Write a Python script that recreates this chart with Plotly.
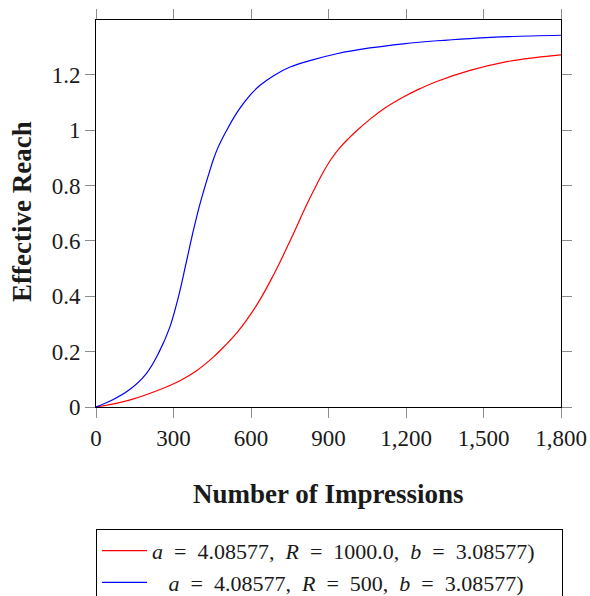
import plotly.graph_objects as go

# Data
impressions_r1000 = [0, 129, 258, 325, 388, 454, 500, 545, 583, 635, 686, 712, 751,
                     777, 800, 828, 855, 880, 910, 945, 980, 1009, 1061, 1120, 1190, 1254,
                     1319, 1448, 1577, 1700, 1800]
reach_r1000 = [0, 0.025, 0.067, 0.095, 0.13, 0.18, 0.222, 0.268, 0.314, 0.388, 0.475, 0.523, 0.600,
               0.652, 0.700, 0.755, 0.805, 0.849, 0.895, 0.938, 0.972, 0.998, 1.040, 1.081, 1.120, 1.150,
               1.176, 1.216, 1.245, 1.262, 1.272]

impressions_r500 = [0, 65, 129, 194, 245, 284, 310, 325, 350, 377, 400, 415, 440, 454, 472, 490, 506,
                    530, 560, 600, 635, 686, 751, 835, 932, 1060, 1190, 1320, 1448, 1600, 1800]
reach_r500 = [0, 0.026, 0.062, 0.12, 0.2, 0.284, 0.365, 0.42, 0.525, 0.638, 0.725, 0.775, 0.852, 0.893,
              0.937, 0.972, 1.0, 1.04, 1.083, 1.13, 1.162, 1.196, 1.228, 1.253, 1.276, 1.297, 1.312,
              1.323, 1.331, 1.338, 1.343]

x_tickvals = [0, 300, 600, 900, 1200, 1500, 1800]
x_ticktext = ["0", "300", "600", "900", "1,200", "1,500", "1,800"]
y_tickvals = [0, 0.2, 0.4, 0.6, 0.8, 1.0, 1.2]
y_ticktext = ["0", "0.2", "0.4", "0.6", "0.8", "1", "1.2"]

S = "\u00a0"
EQ = S * 2 + "=" + S * 2
label_r1000 = ("<i>a</i>" + EQ + "4.08577," + S * 2 + "<i>R</i>" + EQ
               + "1000.0," + S * 2 + "<i>b</i>" + EQ + "3.08577)" + S * 4)
label_r500 = (S * 3 + "<i>a</i>" + EQ + "4.08577," + S * 2 + "<i>R</i>" + EQ
              + "500," + S * 2 + "<i>b</i>" + EQ + "3.08577)")

FONT = "Liberation Serif"

fig = go.Figure()
fig.add_trace(go.Scatter(x=impressions_r1000, y=reach_r1000, mode="lines",
                         line=dict(color="#ff0000", width=1.2, shape="spline", smoothing=1.1),
                         name=label_r1000))
fig.add_trace(go.Scatter(x=impressions_r500, y=reach_r500, mode="lines",
                         line=dict(color="#0000ff", width=1.2, shape="spline", smoothing=1.1),
                         name=label_r500))

axis_common = dict(showline=True, linecolor="black", linewidth=1, mirror="ticks",
                   ticks="outside", ticklen=10, tickcolor="#8c8c8c", tickwidth=1,
                   showgrid=False, zeroline=False,
                   tickfont=dict(family=FONT, size=23, color="#1a1a1a"))

fig.update_xaxes(range=[0, 1800], tickvals=x_tickvals, ticktext=x_ticktext, **axis_common)
fig.update_yaxes(range=[0, 1.398], tickvals=y_tickvals, ticktext=y_ticktext, **axis_common)

fig.add_annotation(text="<b>Number of Impressions</b>", xref="paper", yref="paper",
                   x=0.499, y=-0.225, xanchor="center", yanchor="middle", showarrow=False,
                   font=dict(family=FONT, size=27, color="#1a1a1a"))
fig.add_annotation(text="<b>Effective Reach</b>", xref="paper", yref="paper",
                   x=-0.159, y=0.504, xanchor="center", yanchor="middle", showarrow=False,
                   textangle=-90, font=dict(family=FONT, size=27, color="#1a1a1a"))

fig.update_layout(
    width=590, height=596,
    margin=dict(l=96, r=29, t=20, b=189, autoexpand=False),
    plot_bgcolor="white", paper_bgcolor="white",
    showlegend=True,
    legend=dict(x=0, y=-0.315, xanchor="left", yanchor="top", orientation="v",
                bordercolor="black", borderwidth=1, bgcolor="white",
                itemwidth=45,
                font=dict(family=FONT, size=22, color="#1a1a1a"),
                tracegroupgap=0),
)

fig.write_html("out.html", config={"displayModeBar": False},
               post_script="document.body.style.margin='0';document.body.style.overflow='hidden';")
